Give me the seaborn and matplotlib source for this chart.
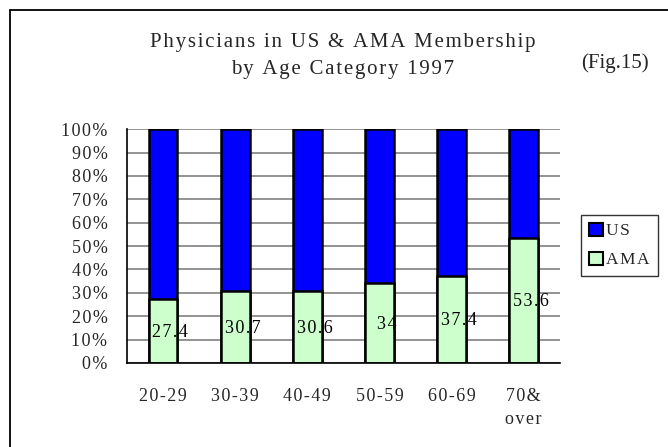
import matplotlib
matplotlib.use("Agg")
import matplotlib.pyplot as plt
import seaborn as sns
import pandas as pd
from matplotlib.patches import Patch, Rectangle
from matplotlib.ticker import FixedLocator, FixedFormatter

categories = ["20-29", "30-39", "40-49", "50-59", "60-69", "70&\nover"]
ama_values = [27.4, 30.7, 30.6, 34, 37.4, 53.6]
us_values = [round(100 - v, 1) for v in ama_values]
ama_labels = ["27.4", "30.7", "30.6", "34", "37.4", "53.6"]
y_ticks = [0, 10, 20, 30, 40, 50, 60, 70, 80, 90, 100]
y_tick_labels = ["0%", "10%", "20%", "30%", "40%", "50%", "60%", "70%", "80%", "90%", "100%"]
series_names = ["US", "AMA"]
title_text = "Physicians in US & AMA Membership\nby Age Category 1997"
fig_tag = "(Fig.15)"

TS = "\u200a"


def spaced(s):
    return "\n".join(TS.join(list(line)) for line in s.split("\n"))


sns.set_style("white")
plt.rcParams["font.family"] = ["Liberation Serif", "DejaVu Serif"]

df = pd.DataFrame({"cat": categories, "AMA": ama_values, "US": us_values})
df["total"] = df["AMA"] + df["US"]

fig = plt.figure(figsize=(6.68, 4.47), dpi=100)
ax = fig.add_axes([0.190, 0.188, 0.648, 0.523])

blue = "#0000FF"
green = "#CCFFCC"
sns.barplot(data=df, x="cat", y="total", color=blue, width=0.4, ax=ax,
            edgecolor="black", linewidth=1.8, saturation=1)
sns.barplot(data=df, x="cat", y="AMA", color=green, width=0.4, ax=ax,
            edgecolor="black", linewidth=1.8, saturation=1)

for i, (v, lab) in enumerate(zip(ama_values, ama_labels)):
    ax.text(i + 0.1, v / 2 - 0.5, spaced(lab), ha="center", va="center",
            fontsize=13, color="black")

ax.set_ylim(0, 100)
ax.set_xlim(-0.5, 5.5)
ax.yaxis.set_major_locator(FixedLocator(y_ticks))
ax.yaxis.set_major_formatter(FixedFormatter([spaced(t) for t in y_tick_labels]))
ax.grid(axis="y", color="#808080", linewidth=1.2)
ax.set_axisbelow(True)
for s in ["top", "right"]:
    ax.spines[s].set_visible(False)
for s in ["left", "bottom"]:
    ax.spines[s].set_color("black")
    ax.spines[s].set_linewidth(1.2)
ax.set_xlabel("")
ax.set_ylabel("")
ax.set_xticks(range(len(categories)))
ax.set_xticklabels([spaced(c) for c in categories])
ax.tick_params(axis="y", labelsize=13, length=0, pad=14)
ax.tick_params(axis="x", which="major", labelsize=13, length=0, pad=18)
ax.xaxis.set_minor_locator(FixedLocator([0.5, 1.5, 2.5, 3.5, 4.5]))
ax.tick_params(axis="x", which="minor", direction="in", length=4, color="#555555")
for t in ax.get_xticklabels():
    t.set_linespacing(1.5)
    t.set_verticalalignment("top")

fig.text(0.513, 0.874, spaced(title_text),
         ha="center", va="center", fontsize=15, linespacing=1.55)
fig.text(0.921, 0.859, fig_tag, ha="center", va="center", fontsize=15)

handles = [Patch(facecolor=blue, edgecolor="black", linewidth=1.5, label=spaced(series_names[0])),
           Patch(facecolor=green, edgecolor="black", linewidth=1.5, label=spaced(series_names[1]))]
leg = fig.legend(handles=handles, loc="upper left", bbox_to_anchor=(0.870, 0.519),
                 frameon=True, fancybox=False, fontsize=12.5, handlelength=0.8,
                 handleheight=0.8, handletextpad=0.2, borderpad=0.45,
                 labelspacing=0.7, borderaxespad=0)
leg.get_frame().set_edgecolor("black")
leg.get_frame().set_linewidth(1.0)

fig.patches.append(Rectangle((10 / 668, -0.1), 1.2, (447 - 10) / 447 + 0.1,
                             transform=fig.transFigure, fill=False,
                             edgecolor="black", linewidth=1.3))

fig.savefig("out.png", dpi=100)
